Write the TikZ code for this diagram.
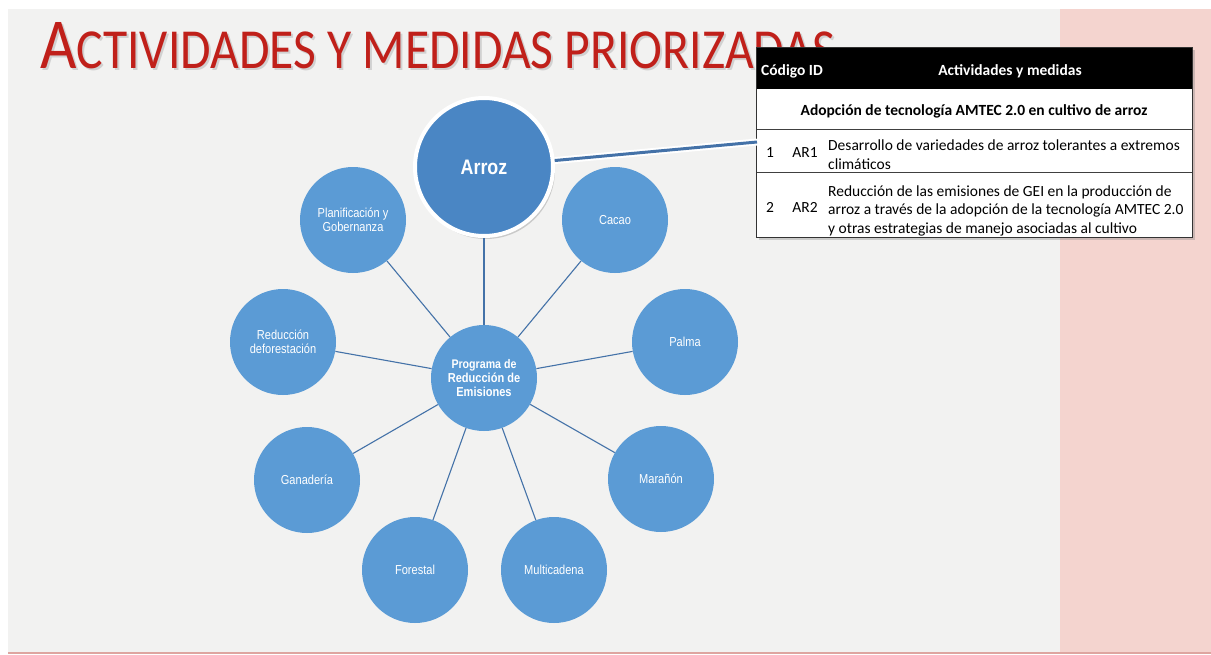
\documentclass[tikz,border=0pt]{standalone}
\usepackage{fontspec}
\setmainfont{Carlito}
\newfontfamily\narrowf[FakeStretch=0.85]{Liberation Sans}
\usetikzlibrary{shadows}
\definecolor{slidegray}{RGB}{242,242,241}
\definecolor{pinkbg}{RGB}{244,212,207}
\definecolor{pinkline}{RGB}{222,165,160}
\definecolor{titlered}{RGB}{192,32,26}
\definecolor{bubble}{RGB}{91,155,213}
\definecolor{arrozblue}{RGB}{74,134,196}
\definecolor{linkblue}{RGB}{68,114,168}
\newcommand\mytitletext{\resizebox{795pt}{46pt}{\fontsize{71}{71}\selectfont A\fontsize{56}{56}\selectfont CTIVIDADES Y MEDIDAS PRIORIZADAS}}
\begin{document}
\begin{tikzpicture}[x=1pt,y=-1pt,
  bub/.style={circle,fill=bubble,minimum size=106pt,inner sep=0pt,text=white,
    font=\narrowf\fontsize{13}{14}\selectfont,align=center},
  link/.style={draw=linkblue,line width=1.1pt},
  cell/.style={inner sep=0pt,font=\fontsize{15.5}{18.5}\selectfont},
  rowline/.style={draw=black!75,line width=0.8pt},
]
\useasboundingbox (0,0) rectangle (1211,654);
\fill[white] (0,0) rectangle (1211,654);
\fill[slidegray] (8,9) rectangle (1060,652);
\fill[pinkbg] (1060,9) rectangle (1211,652);
\fill[pinkline] (8,652) rectangle (1211,654);

% title
\node[anchor=base west,inner sep=0pt,text=black!18] (titleshadow) at (42,70.5) {\mytitletext};
\node[anchor=base west,inner sep=0pt,text=titlered] (title) at (40,68) {\mytitletext};

% bubbles
\node[bub] (prog) at (484,378) {\bfseries\fontsize{12.5}{14}\selectfont Programa de\\\bfseries Reducción de\\\bfseries Emisiones};
\node[bub] (cacao) at (615,220) {Cacao};
\node[bub] (palma) at (685,342) {Palma};
\node[bub] (maranon) at (661,479) {Marañón};
\node[bub] (multi) at (554,570) {Multicadena};
\node[bub] (forestal) at (415,570) {Forestal};
\node[bub] (ganaderia) at (307,480) {Ganadería};
\node[bub] (deforest) at (283,342) {Reducción\\deforestación};
\node[bub] (planif) at (353,220) {Planificación y\\Gobernanza};
\node[circle,fill=arrozblue,draw=white,line width=4pt,minimum size=138pt,inner sep=0pt,
  text=white,font=\narrowf\bfseries\fontsize{21}{24}\selectfont,
  drop shadow={shadow xshift=2pt,shadow yshift=-3pt,opacity=0.35}] (arroz) at (484,167) {Arroz};

\foreach \n in {arroz,cacao,palma,maranon,multi,forestal,ganaderia,deforest,planif}
  \draw[link] (prog) -- (\n);

% table
\fill[white,drop shadow={shadow xshift=3pt,shadow yshift=-3pt,opacity=0.35}] (756,47) rectangle (1192,237);
\fill[black] (756,47) rectangle (1192,89);
\draw[rowline] (756,129) -- (1192,129);
\draw[rowline] (756,172) -- (1192,172);
\draw[draw=black!80,line width=1pt] (756,47) rectangle (1192,237);

\node[cell,anchor=base west,text=white] (hcode) at (761,75) {\bfseries Código ID};
\node[cell,anchor=base,text=white] (hact) at (1010,75) {\bfseries Actividades y medidas};
\node[cell,anchor=base] (grp) at (974,115) {\bfseries Adopción de tecnología AMTEC 2.0 en cultivo de arroz};
\node[cell,anchor=base] (n1) at (770,157) {1};
\node[cell,anchor=base] (ar1) at (805,157) {AR1};
\node[cell,anchor=base west,align=left] (d1) at (828,169) {Desarrollo de variedades de arroz tolerantes a extremos\\climáticos};
\node[cell,anchor=base] (n2) at (770,212) {2};
\node[cell,anchor=base] (ar2) at (805,212) {AR2};
\node[cell,anchor=base west,align=left] (d2) at (828,233) {Reducción de las emisiones de GEI en la producción de\\arroz a través de la adopción de la tecnología AMTEC 2.0\\y otras estrategias de manejo asociadas al cultivo};

% callout
\coordinate (callend) at (757,142);
\draw[white,line width=7pt] (arroz) -- (callend);
\draw[linkblue,line width=3pt] (arroz) -- (callend);
\end{tikzpicture}
\end{document}
